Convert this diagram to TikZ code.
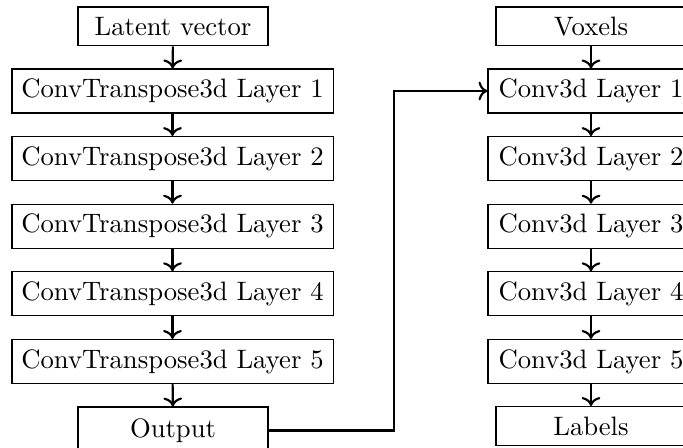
\documentclass[tikz,border=0pt]{standalone}
\usetikzlibrary{arrows.meta}
\tikzset{
  box/.style={draw, line width=0.4pt, inner sep=0pt, font=\normalsize},
  smallbox/.style={box, minimum width=71.25pt, minimum height=14.6pt},
  layerbox/.style={box, minimum width=120.4pt, minimum height=16.5pt},
  rlayerbox/.style={box, minimum width=77.25pt, minimum height=16.5pt},
  flow/.style={->, line width=0.8pt}
}
\begin{document}
\begin{tikzpicture}[x=0.375pt, y=-0.375pt]
\useasboundingbox (0,0) rectangle (683,448);
% left column
\node[smallbox] (lat) at (173,26.5) {Latent vector};
\node[layerbox] (t1) at (172.5,91) {ConvTranspose3d Layer 1};
\node[layerbox] (t2) at (172.5,158.6) {ConvTranspose3d Layer 2};
\node[layerbox] (t3) at (172.5,226.2) {ConvTranspose3d Layer 3};
\node[layerbox] (t4) at (172.5,293.8) {ConvTranspose3d Layer 4};
\node[layerbox] (t5) at (172.5,361.5) {ConvTranspose3d Layer 5};
\node[box, minimum width=71.25pt, minimum height=17.6pt, anchor=north] (out) at (173,406.5) {Output};
% right column
\node[smallbox] (vox) at (591,26.5) {Voxels};
\node[rlayerbox] (c1) at (591,91) {Conv3d Layer 1};
\node[rlayerbox] (c2) at (591,158.6) {Conv3d Layer 2};
\node[rlayerbox] (c3) at (591,226.2) {Conv3d Layer 3};
\node[rlayerbox] (c4) at (591,293.8) {Conv3d Layer 4};
\node[rlayerbox] (c5) at (591,361.5) {Conv3d Layer 5};
\node[smallbox] (lab) at (591,426) {Labels};
% arrows left
\draw[flow] (lat) -- (t1);
\draw[flow] (t1) -- (t2);
\draw[flow] (t2) -- (t3);
\draw[flow] (t3) -- (t4);
\draw[flow] (t4) -- (t5);
\draw[flow] (t5) -- (out);
% arrows right
\draw[flow] (vox) -- (c1);
\draw[flow] (c1) -- (c2);
\draw[flow] (c2) -- (c3);
\draw[flow] (c3) -- (c4);
\draw[flow] (c4) -- (c5);
\draw[flow] (c5) -- (lab);
% connector
\coordinate (bend) at (394,0);
\draw[flow] (out.east) -| (bend |- c1.west) -- (c1.west);
\end{tikzpicture}
\end{document}
